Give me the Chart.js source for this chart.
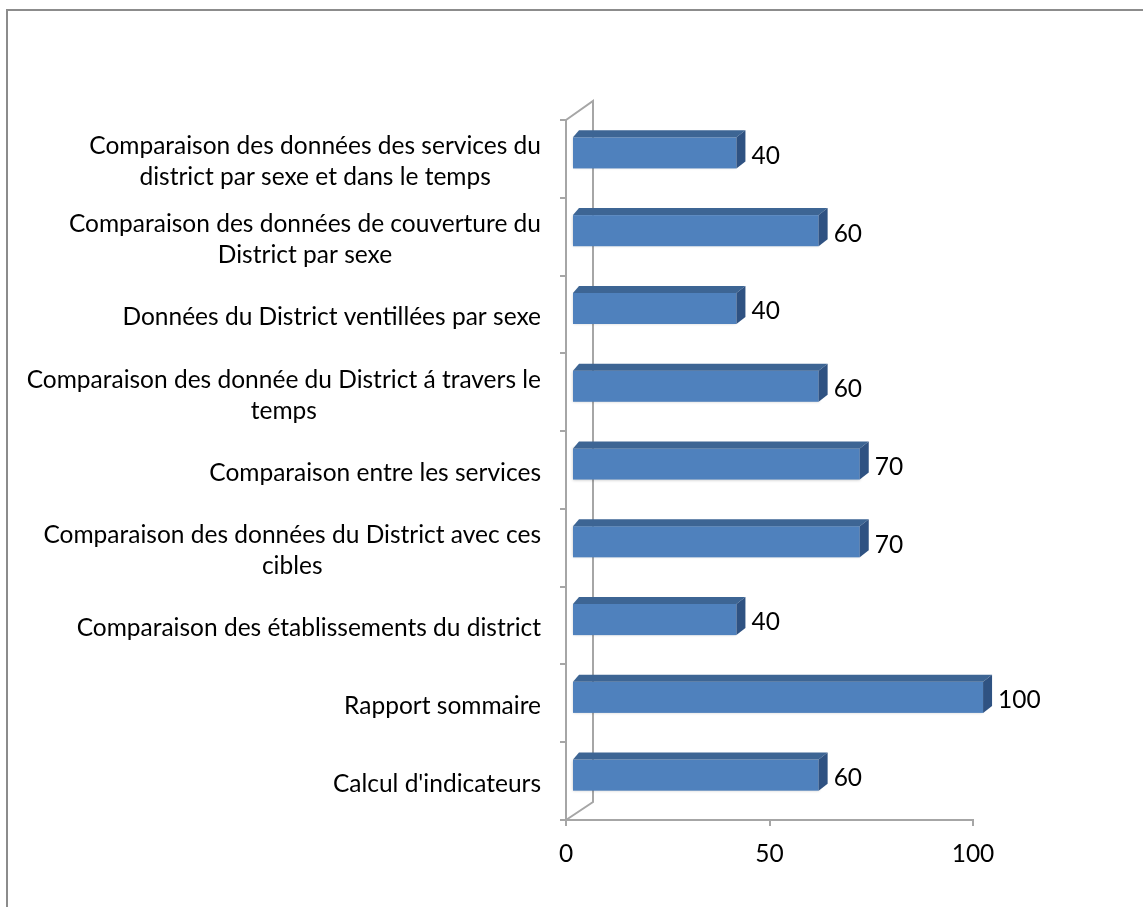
<!DOCTYPE html>
<html>
<head>
<meta charset="utf-8">
<script src="https://cdn.jsdelivr.net/npm/chart.js@4"></script>
<style>
  html, body { margin: 0; padding: 0; background: #fff; }
  canvas { display: block; }
</style>
</head>
<body>
<canvas id="chart" width="1143" height="907"></canvas>
<script>
// libellés des traitements (du haut vers le bas)
const categories = [
    ['Comparaison des données des services du', 'district par sexe et dans le temps'],
    ['Comparaison des données de couverture du', 'District par sexe'],
    'Données du District ventillées par sexe',
    ['Comparaison des donnée du District á travers le', 'temps'],
    'Comparaison entre les services',
    ['Comparaison des données du District avec ces', 'cibles'],
    'Comparaison des établissements du district',
    'Rapport sommaire',
    "Calcul d'indicateurs"
];
const valeurs = [40, 60, 40, 60, 70, 70, 40, 100, 60];
const ticksX = [0, 50, 100];

const FONT = 'Lato, "Open Sans", sans-serif';
const TAILLE = 24.5;
const GRIS = '#a6a6a6';

// faces de la barre 3D
const FACE = '#4f81bd';
const DESSUS = '#3d6594';
const COTE = '#2f5282';

const relief = {
    id: 'relief',
    beforeDatasetsDraw(chart) {
        // mur du fond + sol en perspective
        const { ctx, chartArea: a } = chart;
        ctx.save();
        ctx.strokeStyle = GRIS;
        ctx.lineWidth = 2;
        ctx.beginPath();
        ctx.moveTo(a.left, a.top);
        ctx.lineTo(a.left + 27, a.top - 19);
        ctx.lineTo(a.left + 27, a.bottom - 18);
        ctx.lineTo(a.left, a.bottom);
        ctx.stroke();
        ctx.restore();
    },
    afterDatasetsDraw(chart) {
        const { ctx } = chart;
        const meta = chart.getDatasetMeta(0);
        ctx.save();
        meta.data.forEach((bar, i) => {
            const p = bar.getProps(['x', 'y', 'base', 'height'], true);
            const x0 = p.base + 6;
            const x1 = p.base + 6 + (p.x - p.base) * 1.01;
            const h = p.height;
            const y0 = p.y - 6 - h / 2;
            const dx = 9, dy = 7;

            ctx.shadowColor = 'rgba(0,0,0,0.25)';
            ctx.shadowBlur = 3;
            ctx.fillStyle = FACE;
            ctx.fillRect(x0, y0, x1 - x0, h);
            ctx.shadowBlur = 0;
            ctx.shadowColor = 'transparent';

            ctx.fillStyle = DESSUS;
            ctx.beginPath();
            ctx.moveTo(x0, y0);
            ctx.lineTo(x0 + dx - 3, y0 - dy);
            ctx.lineTo(x1 + dx, y0 - dy);
            ctx.lineTo(x1, y0);
            ctx.closePath();
            ctx.fill();

            ctx.fillStyle = COTE;
            ctx.beginPath();
            ctx.moveTo(x1, y0);
            ctx.lineTo(x1 + dx, y0 - dy);
            ctx.lineTo(x1 + dx, y0 + h - dy);
            ctx.lineTo(x1, y0 + h);
            ctx.closePath();
            ctx.fill();

            // étiquette de valeur
            ctx.fillStyle = '#000';
            ctx.font = TAILLE + 'px ' + FONT;
            ctx.textAlign = 'left';
            ctx.textBaseline = 'middle';
            ctx.fillText(String(valeurs[i]), x1 + 15, p.y - 3);
        });
        ctx.restore();
    },
    afterDraw(chart) {
        const { ctx } = chart;
        const yScale = chart.scales.y;
        ctx.save();
        ctx.font = TAILLE + 'px ' + FONT;
        ctx.fillStyle = '#000';
        ctx.textBaseline = 'middle';
        ctx.textAlign = 'center';
        const droite = 541;
        const interligne = 31;
        categories.forEach((lab, i) => {
            const lignes = Array.isArray(lab) ? lab : [lab];
            const large = Math.max(...lignes.map(l => ctx.measureText(l).width));
            const cy = yScale.getPixelForTick(i) + 3;
            const y0 = cy - (lignes.length - 1) * interligne / 2;
            lignes.forEach((l, k) => ctx.fillText(l, droite - large / 2, y0 + k * interligne));
        });

        // cadre du graphique
        ctx.strokeStyle = '#8c8c8c';
        ctx.lineWidth = 2;
        ctx.strokeRect(7, 10, 1160, 920);
        ctx.restore();
    }
};

new Chart(document.getElementById('chart'), {
    type: 'bar',
    data: {
        labels: categories,
        datasets: [{
            data: valeurs,
            backgroundColor: 'rgba(0,0,0,0)',
            borderWidth: 0,
            barPercentage: 0.4,
            categoryPercentage: 1
        }]
    },
    options: {
        indexAxis: 'y',
        responsive: false,
        animation: false,
        layout: { padding: { top: 120, right: 170, bottom: 0, left: 0 } },
        plugins: {
            legend: { display: false },
            tooltip: { enabled: false }
        },
        scales: {
            x: {
                min: 0,
                max: 100,
                afterBuildTicks: s => { s.ticks = ticksX.map(v => ({ value: v })); },
                afterFit: s => { s.height = 87; },
                grid: { drawOnChartArea: false, color: GRIS, lineWidth: 2, tickLength: 6 },
                border: { color: GRIS, width: 2 },
                ticks: { color: '#000', font: { family: FONT, size: TAILLE }, padding: 13 }
            },
            y: {
                afterFit: s => { s.width = 566; },
                grid: { drawOnChartArea: false, offset: true, color: GRIS, lineWidth: 2, tickLength: 6 },
                border: { color: GRIS, width: 2 },
                ticks: { color: 'rgba(0,0,0,0)', font: { family: FONT, size: TAILLE } }
            }
        }
    },
    plugins: [relief]
});
</script>
</body>
</html>
